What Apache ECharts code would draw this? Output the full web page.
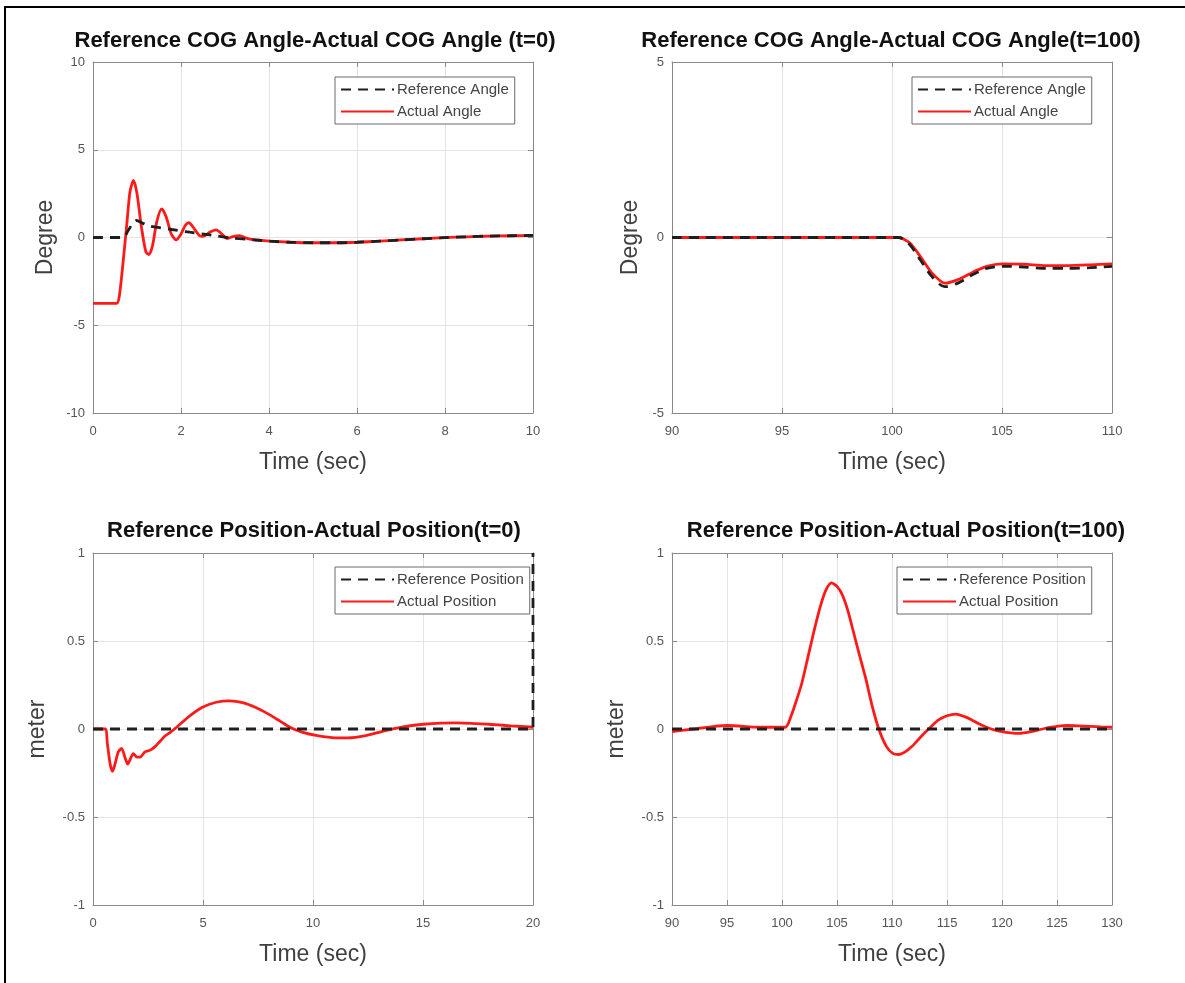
<!DOCTYPE html>
<html><head><meta charset="utf-8">
<script src="https://cdn.jsdelivr.net/npm/echarts/dist/echarts.min.js"></script>
<style>html,body{margin:0;padding:0;background:#fff}#c{width:1185px;height:983px}</style>
</head><body><div id="c"></div>
<script>
// ---------- DATA ----------
const titles = [
  'Reference COG Angle-Actual COG Angle (t=0)',
  'Reference COG Angle-Actual COG Angle(t=100)',
  'Reference Position-Actual Position(t=0)',
  'Reference Position-Actual Position(t=100)'
];
const yNames = ['Degree', 'Degree', 'meter', 'meter'];
const xName = 'Time (sec)';
const angleLegend = ['Reference Angle', 'Actual Angle'];
const posLegend = ['Reference Position', 'Actual Position'];

// x ranges [min, max, interval], y ranges [min, max, interval]
const xRanges = [[0, 10, 2], [90, 110, 5], [0, 20, 5], [90, 130, 5]];
const yRanges = [[-10, 10, 5], [-5, 5, 5], [-1, 1, 0.5], [-1, 1, 0.5]];

// Plot 1: COG angle, t=0
const refAngle0 = [[0,0],[0.68,0],[0.8,0.4],[0.9,0.8],[0.99,0.97],[1.1,0.85],[1.25,0.68],[1.44,0.59],[1.75,0.47],[2.2,0.3],[2.66,0.15],[3.11,-0.02],[3.64,-0.13],[4.02,-0.21],[4.48,-0.27],[5,-0.3],[5.5,-0.3],[6,-0.27],[6.5,-0.21],[7,-0.14],[7.5,-0.07],[8,-0.01],[8.5,0.04],[9,0.08],[9.5,0.1],[10,0.12]];
const actAngle0 = [[0,-3.75],[0.54,-3.75],[0.6,-3.3],[0.68,-1.5],[0.77,0.8],[0.84,2.6],[0.92,3.25],[1.0,2.5],[1.1,0.6],[1.2,-0.8],[1.27,-0.97],[1.35,-0.5],[1.45,0.9],[1.56,1.63],[1.66,1.2],[1.78,0.2],[1.89,-0.13],[2.0,0.2],[2.1,0.7],[2.18,0.84],[2.3,0.5],[2.42,0.1],[2.51,0.06],[2.65,0.3],[2.8,0.44],[2.93,0.2],[3.04,-0.06],[3.18,0.05],[3.33,0.11],[3.5,-0.05],[3.64,-0.12],[4.02,-0.21],[4.48,-0.27],[5,-0.3],[5.5,-0.3],[6,-0.27],[6.5,-0.21],[7,-0.14],[7.5,-0.07],[8,-0.01],[8.5,0.04],[9,0.08],[9.5,0.1],[10,0.12]];

// Plot 2: COG angle, t=100
const refAngle100 = [[90,0],[100.3,0],[100.8,-0.2],[101.3,-0.65],[101.8,-1.1],[102.4,-1.4],[103,-1.3],[103.7,-1.05],[104.3,-0.88],[105,-0.82],[106,-0.84],[107,-0.88],[108,-0.88],[109,-0.86],[110,-0.82]];
const actAngle100 = [[90,0],[100.3,0],[100.8,-0.15],[101.3,-0.55],[101.8,-1.0],[102.4,-1.3],[103,-1.2],[103.7,-0.98],[104.3,-0.82],[105,-0.75],[106,-0.76],[107,-0.8],[108,-0.8],[109,-0.78],[110,-0.75]];

// Plot 3: position, t=0
const refPos0 = [[0,0],[20,0],[20,1]];
const actPos0 = [[0,0],[0.55,0],[0.65,-0.08],[0.78,-0.2],[0.89,-0.24],[1.0,-0.2],[1.15,-0.13],[1.3,-0.11],[1.45,-0.16],[1.58,-0.2],[1.7,-0.17],[1.83,-0.14],[2.0,-0.16],[2.14,-0.16],[2.36,-0.13],[2.6,-0.12],[2.82,-0.1],[3.05,-0.07],[3.27,-0.04],[3.5,-0.02],[3.8,0.01],[4.4,0.075],[5.0,0.125],[5.6,0.152],[6.2,0.16],[6.8,0.15],[7.4,0.122],[8.0,0.083],[8.5,0.045],[8.95,0.01],[9.5,-0.018],[10.2,-0.038],[11.0,-0.05],[11.6,-0.05],[12.4,-0.037],[13.2,-0.012],[14.1,0.012],[15.0,0.027],[16.5,0.035],[18.0,0.027],[19.0,0.018],[20,0.01]];

// Plot 4: position, t=100
const refPos100 = [[90,0],[130,0]];
const actPos100 = [[90,-0.015],[92,0.0],[95,0.02],[98,0.01],[100.3,0.01],[100.8,0.07],[101.3,0.16],[101.8,0.26],[102.4,0.42],[103.0,0.58],[103.5,0.7],[104.0,0.79],[104.5,0.83],[105.0,0.81],[105.5,0.76],[106.0,0.67],[106.5,0.55],[107.0,0.43],[107.6,0.29],[108.2,0.13],[108.8,0.0],[109.5,-0.1],[110.1,-0.14],[110.6,-0.145],[111.2,-0.13],[111.8,-0.1],[112.4,-0.06],[113.0,-0.02],[113.5,0.01],[114.2,0.05],[115.0,0.075],[115.8,0.085],[116.6,0.07],[117.3,0.05],[117.9,0.03],[118.6,0.01],[119.3,-0.005],[120,-0.015],[120.8,-0.022],[121.5,-0.025],[122.2,-0.02],[122.9,-0.012],[123.7,0.0],[124.5,0.01],[125.3,0.018],[125.9,0.02],[127,0.018],[128,0.015],[129,0.012],[130,0.01]];

// ---------- LAYOUT / STYLE ----------
const FONT = '"Liberation Sans", Arial, Helvetica, sans-serif';
const grids = [
  {left: 93, top: 62, width: 440, height: 351},
  {left: 672, top: 62, width: 440, height: 351},
  {left: 93, top: 553, width: 440, height: 352},
  {left: 672, top: 553, width: 440, height: 352}
];
const titleCenters = [[315, 30], [891, 30], [314, 520], [906, 520]];
const legendPos = [[335, 77], [912, 77], [335, 567], [897, 567]];
const yNameGaps = [36, 30, 44, 44];
const AX = '#8a8a8a';

const xAxes = [], yAxes = [];
grids.forEach((g, i) => {
  const [xmin, xmax, xint] = xRanges[i];
  const [ymin, ymax, yint] = yRanges[i];
  xAxes.push({
    gridIndex: i, type: 'value', min: xmin, max: xmax, interval: xint,
    name: xName, nameLocation: 'middle', nameGap: 38,
    nameTextStyle: {fontSize: 23, color: '#404040', fontFamily: FONT},
    axisLine: {show: true, onZero: false, lineStyle: {color: AX, width: 1}},
    axisTick: {show: true, inside: true, length: 5, lineStyle: {color: AX}},
    axisLabel: {color: '#555', fontSize: 13, margin: 12, fontFamily: FONT},
    splitLine: {show: true, lineStyle: {color: '#e4e4e4', width: 1}}
  });
  xAxes.push({
    gridIndex: i, type: 'value', min: xmin, max: xmax, interval: xint, position: 'top',
    axisLine: {show: true, onZero: false, lineStyle: {color: AX, width: 1}},
    axisTick: {show: true, inside: true, length: 5, lineStyle: {color: AX}},
    axisLabel: {show: false}, splitLine: {show: false}
  });
  yAxes.push({
    gridIndex: i, type: 'value', min: ymin, max: ymax, interval: yint,
    name: yNames[i], nameLocation: 'middle', nameGap: yNameGaps[i], nameRotate: 90,
    nameTextStyle: {fontSize: 23, color: '#404040', fontFamily: FONT},
    axisLine: {show: true, onZero: false, lineStyle: {color: AX, width: 1}},
    axisTick: {show: true, inside: true, length: 5, lineStyle: {color: AX}},
    axisLabel: {color: '#555', fontSize: 13, margin: 8, fontFamily: FONT},
    splitLine: {show: true, lineStyle: {color: '#e4e4e4', width: 1}}
  });
  yAxes.push({
    gridIndex: i, type: 'value', min: ymin, max: ymax, interval: yint, position: 'right',
    axisLine: {show: true, onZero: false, lineStyle: {color: AX, width: 1}},
    axisTick: {show: true, inside: true, length: 5, lineStyle: {color: AX}},
    axisLabel: {show: false}, splitLine: {show: false}
  });
});

const seriesDefs = [
  [refAngle0, actAngle0, angleLegend],
  [refAngle100, actAngle100, angleLegend],
  [refPos0, actPos0, posLegend],
  [refPos100, actPos100, posLegend]
];
const series = [];
seriesDefs.forEach(([ref, act, names], i) => {
  series.push({
    type: 'line', name: names[1], xAxisIndex: 2 * i, yAxisIndex: 2 * i,
    data: act, showSymbol: false, symbol: 'none', smooth: 0.25,
    lineStyle: {color: '#ff1a1a', width: 2.8}, itemStyle: {color: '#ff1a1a'}, z: 2
  });
  series.push({
    type: 'line', name: names[0], xAxisIndex: 2 * i, yAxisIndex: 2 * i,
    data: ref, showSymbol: false, symbol: 'none', smooth: i < 2 ? 0.3 : false,
    lineStyle: {color: '#1e1e1e', width: 2.8, type: [10, 7]}, itemStyle: {color: '#1e1e1e'}, z: 3
  });
});

const legends = legendPos.map((p, i) => ({
  data: seriesDefs[i][2], orient: 'vertical', left: p[0], top: p[1],
  backgroundColor: '#fff', borderColor: '#6a6a6a', borderWidth: 1,
  padding: [4, 6, 4, 5], itemWidth: 53, itemHeight: 2, itemGap: 5,
  selectedMode: false,
  itemStyle: {opacity: 0},
  textStyle: {fontSize: 15, color: '#444', fontFamily: FONT, padding: [0, 0, 0, -2], lineHeight: 17}
}));

const titleComps = titles.map((t, i) => ({
  text: t, left: titleCenters[i][0], top: titleCenters[i][1], textAlign: 'center', padding: 0,
  textStyle: {fontSize: 22, fontWeight: 'bold', color: '#111', fontFamily: FONT}
}));

const chart = echarts.init(document.getElementById('c'), null, {renderer: 'canvas'});
chart.setOption({
  animation: false,
  backgroundColor: '#fff',
  title: titleComps,
  legend: legends,
  grid: grids.map(g => Object.assign({containLabel: false}, g)),
  xAxis: xAxes,
  yAxis: yAxes,
  series: series,
  graphic: [{
    type: 'rect', silent: true,
    shape: {x: 5, y: 7, width: 1300, height: 1100},
    style: {fill: 'none', stroke: '#000', lineWidth: 2}
  }]
});
</script></body></html>
